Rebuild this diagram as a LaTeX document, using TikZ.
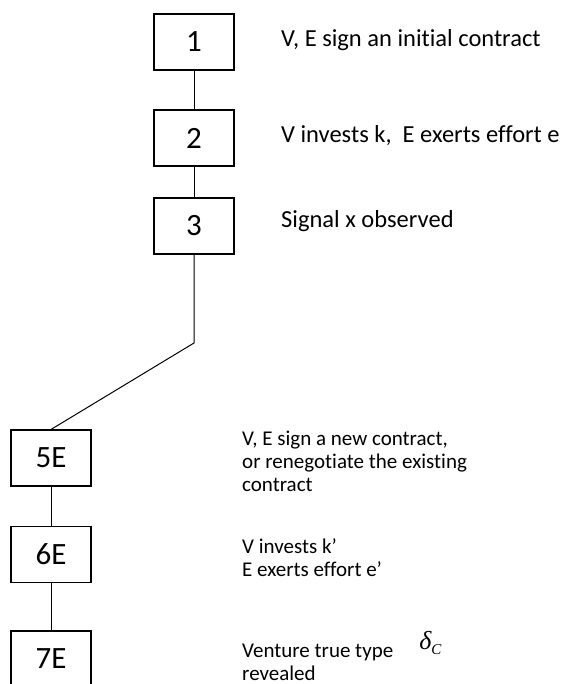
\documentclass[tikz,border=0pt]{standalone}
\usepackage{fontspec}
\setmainfont{Carlito}[Ligatures=NoCommon]
\newfontfamily\tnrfont{Liberation Serif}
\begin{document}
\begin{tikzpicture}[x=1pt,y=-1pt,
  stage/.style={draw=black,line width=1.1pt,minimum width=80pt,minimum height=56pt,inner sep=0pt,font=\fontsize{31}{31}\selectfont},
  desc/.style={anchor=base west,inner sep=0pt,align=left,font=\fontsize{24.5}{23.5}\selectfont},
  descs/.style={anchor=base west,inner sep=0pt,align=left,font=\fontsize{21}{23}\selectfont},
  link/.style={draw=black,line width=1pt}]
\useasboundingbox (0,0) rectangle (563,684);
\node[stage] (s1) at (194,42) {1};
\node[stage] (s2) at (194,138) {2};
\node[stage] (s3) at (194,226) {3};
\node[stage] (s5) at (51,458) {5E};
\node[stage] (s6) at (51,554.5) {6E};
\node[stage] (s7) at (51,659) {7E};
\coordinate (bend) at (194,343);
\draw[link] (s1) -- (s2);
\draw[link] (s2) -- (s3);
\draw[link] (s3.south) -- (bend) -- (s5.north);
\draw[link] (s5) -- (s6);
\draw[link] (s6) -- (s7);
\node[desc] (t1) at (281,47) {V, E sign an initial contract};
\node[desc] (t2) at (281,143) {V invests k,\ \ E exerts effort e};
\node[desc] (t3) at (281,228) {Signal x observed};
\node[descs] (t5) at (242,491) {V, E sign a new contract,\\or renegotiate the existing\\contract};
\node[descs] (t6) at (242,576) {V invests k’\\E exerts effort e’};
\node[descs] (t7) at (242,680) {Venture true type\hspace{26pt}\raisebox{8pt}{\tnrfont\itshape\fontsize{26}{26}\selectfont δ\raisebox{-5pt}{\fontsize{15}{15}\selectfont C}}\\revealed};
\end{tikzpicture}
\end{document}
